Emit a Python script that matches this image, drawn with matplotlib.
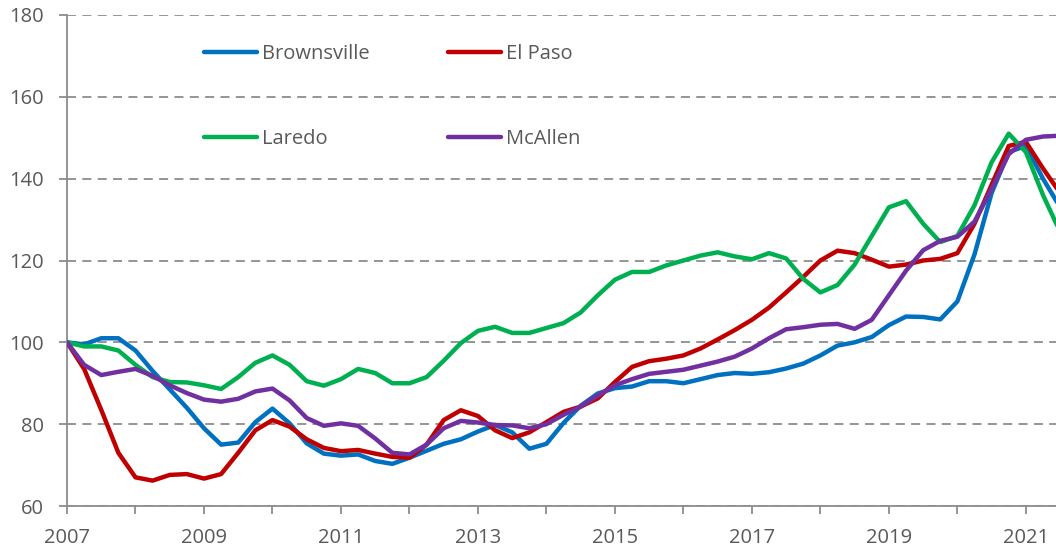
"""Border metro price index chart, 2007 = 100."""

import matplotlib

matplotlib.use("Agg")
import matplotlib.pyplot as plt
from matplotlib.ticker import FixedLocator, FixedFormatter

# Quarterly observations, 2007 Q1 .. 2021 Q3
quarters = [2007 + 0.25 * k for k in range(59)]

brownsville = [
    100, 99.5, 101, 101, 98, 93, 88.5, 84, 79, 75, 75.5, 80.5,
    83.8, 80.2, 75.3, 72.8, 72.3, 72.6, 71, 70.3, 71.8, 73.5, 75.2, 76.3,
    78.2, 79.8, 78, 74, 75.2, 80.3, 84.5, 87.5, 88.8, 89.2, 90.5, 90.5,
    90, 91, 92, 92.5, 92.3, 92.7, 93.6, 94.8, 96.8, 99.2, 100, 101.3,
    104.2, 106.3, 106.2, 105.6, 110, 121.5, 136.5, 146.5, 148, 140, 133,
]
el_paso = [
    100, 93.5, 83.5, 73, 67, 66.2, 67.6, 67.8, 66.7, 67.8, 73, 78.5,
    81, 79.4, 76.3, 74.2, 73.4, 73.7, 72.8, 72, 71.8, 75, 81, 83.4,
    82, 78.5, 76.6, 78, 80.5, 83, 84.3, 86.3, 90.3, 94, 95.4, 96,
    96.8, 98.5, 100.7, 103, 105.5, 108.5, 112.2, 116, 120, 122.4, 121.8, 120.2,
    118.5, 119, 120, 120.4, 121.8, 129, 138.5, 148, 149, 142.5, 136.5,
]
laredo = [
    100, 99, 99, 98, 94.5, 91.5, 90.3, 90.2, 89.5, 88.6, 91.5, 95,
    96.8, 94.5, 90.5, 89.4, 91, 93.5, 92.5, 90, 90, 91.5, 95.5, 99.8,
    102.8, 103.8, 102.3, 102.3, 103.5, 104.7, 107.3, 111.5, 115.3, 117.2, 117.2, 118.8,
    120, 121.2, 122, 121, 120.3, 121.8, 120.5, 115.5, 112.2, 114, 119, 126,
    133, 134.5, 129, 124.5, 126, 133.5, 144, 151, 146.5, 136, 127,
]
mcallen = [
    100, 94.5, 92, 92.8, 93.5, 91.8, 89.5, 87.6, 86, 85.5, 86.2, 88,
    88.7, 85.8, 81.5, 79.6, 80.2, 79.6, 76.5, 73, 72.6, 75, 79, 80.8,
    80.4, 79.8, 79.7, 79, 80, 82.3, 84.3, 87, 89.5, 91, 92.3, 92.8,
    93.3, 94.3, 95.3, 96.5, 98.5, 101, 103.2, 103.7, 104.3, 104.5, 103.3, 105.5,
    111.5, 117.5, 122.5, 124.8, 125.8, 129.5, 137.5, 146, 149.5, 150.3, 150.5,
]

series_names = ["Brownsville", "El Paso", "Laredo", "McAllen"]
series_colors = ["#0070C0", "#C00000", "#00B050", "#7030A0"]

tick_years = list(range(2007, 2022))
tick_labels = [str(y) if y % 2 == 1 else "" for y in tick_years]
y_ticks = [60, 80, 100, 120, 140, 160, 180]

plt.rcParams["font.family"] = ["Open Sans", "DejaVu Sans"]
text_color = "#595959"
axis_color = "#8C8C8C"

fig = plt.figure(figsize=(10.56, 5.53), dpi=100)
ax = fig.add_axes([67 / 1056, 1 - 506 / 553, 1 - 67 / 1056, (506 - 15) / 553])

lines = {}
for name, values, color in zip(
    series_names, [brownsville, el_paso, laredo, mcallen], series_colors
):
    (lines[name],) = ax.plot(
        quarters,
        values,
        label=name,
        color=color,
        linewidth=3.2,
        solid_capstyle="round",
        solid_joinstyle="round",
        zorder=3,
    )

ax.set_xlim(2007, 2021.44)
ax.set_ylim(60, 180)

ax.xaxis.set_major_locator(FixedLocator(tick_years))
ax.xaxis.set_major_formatter(FixedFormatter(tick_labels))
ax.set_yticks(y_ticks)

ax.grid(axis="y", color=axis_color, linestyle=(0, (5, 3.5)), linewidth=1.3, zorder=1)
ax.set_axisbelow(True)

for side in ("top", "right"):
    ax.spines[side].set_visible(False)
for side in ("left", "bottom"):
    ax.spines[side].set_color(axis_color)
    ax.spines[side].set_linewidth(1.3)

ax.tick_params(axis="y", length=5.5, width=1.3, color=axis_color, pad=11,
               labelsize=14.5, labelcolor=text_color)
ax.tick_params(axis="x", length=5.5, width=1.3, color=axis_color, pad=10,
               labelsize=14.5, labelcolor=text_color)

# legend fills column-wise, so order entries to read row by row
legend_order = ["Brownsville", "Laredo", "El Paso", "McAllen"]
leg = ax.legend(
    [lines[n] for n in legend_order],
    legend_order,
    ncol=2,
    loc="upper left",
    bbox_to_anchor=((204 - 67) / 989, (506 - 44) / 491),
    frameon=False,
    fontsize=14.5,
    handlelength=2.65,
    handletextpad=0.25,
    columnspacing=3.85,
    labelspacing=3.25,
    borderpad=0,
    borderaxespad=0,
)
for txt in leg.get_texts():
    txt.set_color(text_color)
for line in leg.get_lines():
    line.set_linewidth(3.2)
    line.set_solid_capstyle("round")

fig.savefig("out.png", dpi=100)
plt.close(fig)
